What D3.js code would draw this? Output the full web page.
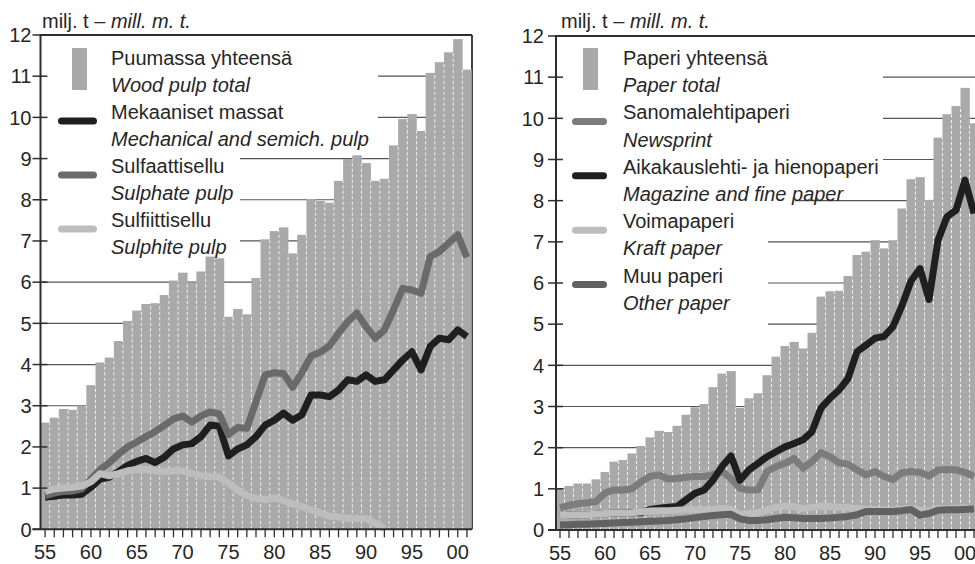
<!DOCTYPE html>
<html><head><meta charset="utf-8">
<script src="https://cdn.jsdelivr.net/npm/d3@7"></script>
<style>
html,body{margin:0;padding:0;background:#fff;}
svg{display:block;font-family:"Liberation Sans",Arial,Helvetica,sans-serif;}
</style>
</head><body>
<svg id="chart" width="975" height="564"></svg>
<script>
// ---------- DATA ----------
const years = [1955,1956,1957,1958,1959,1960,1961,1962,1963,1964,1965,1966,1967,1968,1969,
  1970,1971,1972,1973,1974,1975,1976,1977,1978,1979,1980,1981,1982,1983,1984,1985,1986,1987,
  1988,1989,1990,1991,1992,1993,1994,1995,1996,1997,1998,1999,2000,2001];
const tickYears = [1955,1960,1965,1970,1975,1980,1985,1990,1995,2000];
const tickLabels = ["55","60","65","70","75","80","85","90","95","00"];
const yTicks = [0,1,2,3,4,5,6,7,8,9,10,11,12];

// Left panel (million tonnes)
const woodPulpTotal = [2.59,2.71,2.92,2.90,3.00,3.50,4.05,4.17,4.57,5.06,5.31,5.47,5.49,5.69,6.04,
  6.23,5.99,6.26,6.62,6.58,5.16,5.35,5.22,6.10,7.04,7.24,7.33,6.70,7.15,8.02,7.97,7.93,8.46,
  8.99,9.08,8.89,8.46,8.51,9.32,9.96,10.08,9.67,11.08,11.34,11.58,11.90,11.16];
const mechanicalPulp = [0.78,0.80,0.83,0.83,0.85,1.02,1.22,1.26,1.40,1.55,1.65,1.72,1.62,1.75,1.95,
  2.05,2.08,2.25,2.53,2.50,1.78,1.95,2.05,2.25,2.53,2.65,2.82,2.65,2.78,3.26,3.26,3.22,3.38,
  3.63,3.59,3.75,3.59,3.63,3.87,4.11,4.31,3.87,4.44,4.64,4.60,4.84,4.68];
const sulphatePulp = [0.82,0.88,0.92,0.93,0.98,1.22,1.45,1.62,1.82,2.00,2.12,2.25,2.37,2.52,2.68,
  2.75,2.60,2.75,2.85,2.80,2.30,2.47,2.45,3.10,3.75,3.80,3.78,3.45,3.80,4.20,4.30,4.45,4.76,
  5.04,5.25,4.92,4.64,4.84,5.33,5.85,5.81,5.73,6.62,6.74,6.95,7.15,6.60];
const sulphitePulp = [0.92,0.98,1.00,1.02,1.05,1.15,1.35,1.30,1.35,1.42,1.45,1.45,1.42,1.40,1.42,
  1.42,1.36,1.30,1.28,1.27,1.12,0.95,0.82,0.75,0.72,0.76,0.70,0.62,0.55,0.47,0.40,0.32,0.30,
  0.27,0.27,0.26,0.15,0.02,null,null,null,null,null,null,null,null,null];

// Right panel (million tonnes)
const paperTotal = [0.99,1.07,1.13,1.13,1.23,1.41,1.66,1.70,1.86,2.04,2.25,2.41,2.38,2.53,2.80,
  2.98,3.06,3.47,3.80,3.86,2.97,3.20,3.32,3.76,4.21,4.47,4.57,4.41,4.79,5.67,5.80,5.81,6.17,
  6.68,6.76,7.04,6.84,7.04,7.81,8.52,8.57,8.02,9.53,10.10,10.30,10.74,9.88];
const newsprint = [0.54,0.60,0.64,0.66,0.69,0.90,0.97,0.97,1.00,1.17,1.30,1.34,1.24,1.25,1.28,
  1.30,1.30,1.34,1.42,1.25,1.01,0.97,0.98,1.42,1.54,1.62,1.74,1.50,1.66,1.88,1.78,1.63,1.60,
  1.46,1.34,1.42,1.30,1.23,1.39,1.42,1.40,1.31,1.46,1.47,1.46,1.40,1.30];
const magazineFine = [0.35,0.36,0.37,0.37,0.38,0.40,0.41,0.41,0.42,0.42,0.50,0.53,0.55,0.57,0.73,
  0.89,0.97,1.21,1.54,1.80,1.21,1.46,1.62,1.78,1.90,2.02,2.10,2.19,2.39,2.96,3.20,3.40,3.68,
  4.33,4.49,4.66,4.70,4.94,5.45,6.05,6.35,5.60,7.04,7.61,7.77,8.50,7.69];
const kraftPaper = [0.35,0.36,0.37,0.37,0.38,0.40,0.41,0.41,0.42,0.44,0.46,0.47,0.47,0.48,0.49,
  0.50,0.49,0.50,0.52,0.50,0.37,0.40,0.42,0.49,0.55,0.58,0.57,0.52,0.55,0.58,0.57,0.55,0.54,
  0.52,0.50,0.50,0.48,0.48,0.50,0.52,0.48,0.46,0.52,0.52,0.53,0.54,0.50];
const otherPaper = [0.12,0.13,0.14,0.14,0.15,0.16,0.17,0.18,0.19,0.20,0.21,0.22,0.23,0.25,0.27,
  0.30,0.33,0.35,0.37,0.38,0.27,0.23,0.23,0.25,0.28,0.31,0.30,0.28,0.28,0.28,0.29,0.31,0.33,
  0.37,0.45,0.45,0.45,0.45,0.47,0.50,0.36,0.40,0.48,0.49,0.49,0.50,0.51];

const leftLegend = [
  {type:"bar", fi:"Puumassa yhteensä", en:"Wood pulp total"},
  {type:"line", fi:"Mekaaniset massat", en:"Mechanical and semich. pulp", color:"#1f1f1f"},
  {type:"line", fi:"Sulfaattisellu", en:"Sulphate pulp", color:"#6a6a6a"},
  {type:"line", fi:"Sulfiittisellu", en:"Sulphite pulp", color:"#bdbdbd"}
];
const rightLegend = [
  {type:"bar", fi:"Paperi yhteensä", en:"Paper total"},
  {type:"line", fi:"Sanomalehtipaperi", en:"Newsprint", color:"#7c7c7c"},
  {type:"line", fi:"Aikakauslehti- ja hienopaperi", en:"Magazine and fine paper", color:"#1f1f1f"},
  {type:"line", fi:"Voimapaperi", en:"Kraft paper", color:"#bdbdbd"},
  {type:"line", fi:"Muu paperi", en:"Other paper", color:"#626262"}
];

// ---------- DRAW ----------
const svg = d3.select("#chart");
const BAR = "#a9a9a9";
const TXT = "#262626";
const AX = "#2e2e2e";

function panel(cfg){
  const g = svg.append("g");
  const x = d3.scaleBand().domain(years).range([cfg.x0, cfg.x1]).padding(0);
  const y = d3.scaleLinear().domain([0,12]).range([cfg.yBottom, cfg.yTop]);
  const bw = x.bandwidth();

  // gridlines
  g.append("g").selectAll("line").data(yTicks.filter(d=>d>0)).join("line")
    .attr("x1", cfg.axisX).attr("x2", cfg.frameRight)
    .attr("y1", d=>y(d)).attr("y2", d=>y(d))
    .attr("stroke", d=> d===12 ? AX : "#555").attr("stroke-width", d=> d===12 ? 1.8 : 1.2);
  if (cfg.rightBorder){
    g.append("line").attr("x1", cfg.frameRight).attr("x2", cfg.frameRight)
      .attr("y1", y(12)).attr("y2", y(0)).attr("stroke", AX).attr("stroke-width", 1.8);
  }
  // legend background masks
  g.append("g").selectAll("rect").data(cfg.masks).join("rect")
    .attr("x", d=>d[0]).attr("y", d=>d[1]).attr("width", d=>d[2]).attr("height", d=>d[3])
    .attr("fill", "#fff");

  // bars
  g.append("g").selectAll("rect").data(years).join("rect")
    .attr("x", (d)=>x(d)).attr("width", bw + 0.3)
    .attr("y", (d,i)=>y(cfg.bars[i])).attr("height", (d,i)=>y(0)-y(cfg.bars[i]))
    .attr("fill", BAR);
  // white dashed separators
  g.append("g").selectAll("line").data(years.slice(1)).join("line")
    .attr("x1", d=>x(d)).attr("x2", d=>x(d))
    .attr("y1", y(0)).attr("y2", (d,i)=>y(Math.min(cfg.bars[i], cfg.bars[i+1])))
    .attr("stroke", "#fff").attr("stroke-width", 1).attr("stroke-dasharray", "3,2.5")
    .attr("opacity", 0.85);

  // lines
  const line = d3.line().defined(v=>v!==null)
    .x((v,i)=>x(years[i]) + bw/2).y(v=>y(v));
  cfg.series.forEach(s=>{
    g.append("path").datum(s.values).attr("d", line)
      .attr("fill","none").attr("stroke", s.color).attr("stroke-width", 7)
      .attr("stroke-linejoin","round").attr("stroke-linecap","butt");
  });

  // y axis
  g.append("line").attr("x1", cfg.axisX).attr("x2", cfg.axisX)
    .attr("y1", y(12)-1).attr("y2", y(0)).attr("stroke", AX).attr("stroke-width", 2);
  g.append("g").selectAll("line").data(yTicks).join("line")
    .attr("x1", cfg.axisX-8).attr("x2", d=> d===0 ? cfg.axisX : cfg.axisX+7)
    .attr("y1", d=>y(d)).attr("y2", d=>y(d)).attr("stroke", AX).attr("stroke-width", 1.5);
  g.append("g").selectAll("text").data(yTicks).join("text")
    .attr("x", cfg.axisX - cfg.labelGap).attr("y", d=>y(d)).attr("dy","0.36em")
    .attr("text-anchor","end").attr("font-size", 20).attr("fill", TXT).text(d=>d);

  // x axis
  g.append("line").attr("x1", cfg.axisX-8).attr("x2", cfg.frameRight)
    .attr("y1", y(0)).attr("y2", y(0)).attr("stroke", AX).attr("stroke-width", 2);
  g.append("g").selectAll("line").data(years).join("line")
    .attr("x1", d=>x(d)+bw/2).attr("x2", d=>x(d)+bw/2)
    .attr("y1", y(0)).attr("y2", y(0)+8).attr("stroke", AX).attr("stroke-width", 1.3);
  g.append("g").selectAll("text").data(tickYears).join("text")
    .attr("x", d=>x(d)+bw/2).attr("y", cfg.yBottom + 30)
    .attr("text-anchor","middle").attr("font-size", 20).attr("fill", TXT)
    .text((d,i)=>tickLabels[i]);

  // title
  const t = g.append("text").attr("x", cfg.titleX).attr("y", 28)
    .attr("font-size", 20).attr("fill", TXT);
  t.append("tspan").text("milj. t – ");
  t.append("tspan").attr("font-style","italic").text("mill. m. t.");

  // legend
  const step = cfg.legStep, base = 65;
  cfg.legend.forEach((it, k)=>{
    const b1 = base + step*2*k, b2 = b1 + step;
    if (it.type === "bar"){
      g.append("rect").attr("x", cfg.barSw[0]).attr("y", 48).attr("width", cfg.barSw[1]-cfg.barSw[0])
        .attr("height", 42).attr("fill", BAR);
    } else {
      g.append("line").attr("x1", cfg.lineSw[0]).attr("x2", cfg.lineSw[1])
        .attr("y1", b1+2).attr("y2", b1+2).attr("stroke", it.color)
        .attr("stroke-width", 7).attr("stroke-linecap","round");
    }
    g.append("text").attr("x", cfg.textX).attr("y", b1).attr("font-size", 20)
      .attr("fill", TXT).text(it.fi);
    g.append("text").attr("x", cfg.textX).attr("y", b2).attr("font-size", 20)
      .attr("font-style","italic").attr("fill", TXT).text(it.en);
  });
}

panel({
  x0: 40.5, x1: 471.5, axisX: 40.5, frameRight: 472, rightBorder: true,
  yTop: 35, yBottom: 529.3, labelGap: 9, titleX: 42,
  bars: woodPulpTotal,
  series: [
    {values: mechanicalPulp, color: "#1f1f1f"},
    {values: sulphatePulp, color: "#6a6a6a"},
    {values: sulphitePulp, color: "#bdbdbd"}
  ],
  masks: [[42,37,336,103],[42,140,198,122]],
  legend: leftLegend, legStep: 27, textX: 111, barSw: [72,87], lineSw: [61.5,93.5]
});
panel({
  x0: 555.5, x1: 978.5, axisX: 556, frameRight: 980, rightBorder: false,
  yTop: 36, yBottom: 530, labelGap: 12, titleX: 561,
  bars: paperTotal,
  series: [
    {values: newsprint, color: "#7c7c7c"},
    {values: magazineFine, color: "#1f1f1f"},
    {values: kraftPaper, color: "#bdbdbd"},
    {values: otherPaper, color: "#626262"}
  ],
  masks: [[557,38,326,147],[557,185,238,30],[557,215,211,118]],
  legend: rightLegend, legStep: 27.2, textX: 623, barSw: [583,598], lineSw: [575.5,603.5]
});
</script>
</body></html>
